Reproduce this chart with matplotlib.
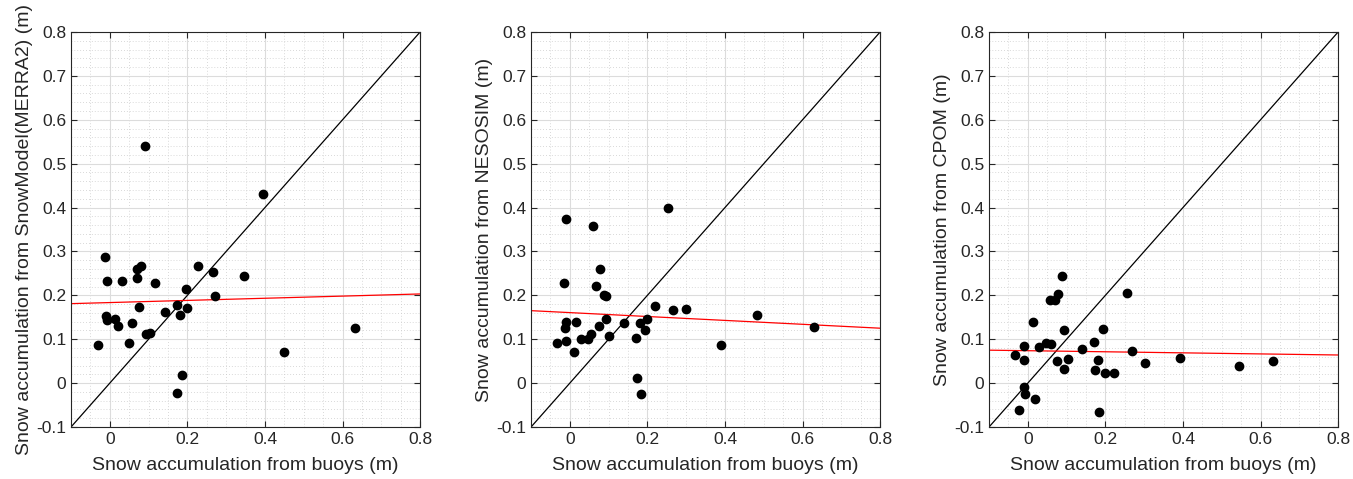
import numpy as np
import matplotlib
matplotlib.use("Agg")
import matplotlib.pyplot as plt
from matplotlib.ticker import MultipleLocator

plt.rcParams['font.family'] = ['Liberation Sans', 'DejaVu Sans']

# buoy-derived snow accumulation vs. model estimates (m)
buoy_merra = [0.090, 0.395, -0.012, 0.081, 0.069, 0.069, -0.008, 0.031, 0.117, 0.228,
              0.267, 0.346, 0.196, 0.270, 0.075, 0.173, 0.200, 0.182, 0.141, -0.010,
              -0.008, 0.014, 0.020, 0.056, 0.093, 0.103, 0.049, -0.031, 0.450, 0.632,
              0.185, 0.173]
model_merra = [0.540, 0.430, 0.287, 0.266, 0.260, 0.240, 0.233, 0.233, 0.229, 0.266,
               0.253, 0.244, 0.215, 0.199, 0.174, 0.178, 0.172, 0.156, 0.163, 0.152,
               0.144, 0.145, 0.130, 0.136, 0.112, 0.114, 0.091, 0.086, 0.071, 0.125,
               0.018, -0.022]

buoy_nesosim = [-0.009, 0.059, 0.254, 0.078, -0.016, 0.068, 0.088, 0.092, 0.220, 0.267,
                0.299, 0.482, 0.630, -0.009, 0.017, -0.012, 0.093, 0.140, 0.180, 0.199,
                0.195, 0.074, 0.055, 0.047, 0.028, 0.102, 0.171, -0.033, -0.011, 0.012,
                0.391, 0.172, 0.183]
model_nesosim = [0.375, 0.357, 0.400, 0.259, 0.229, 0.221, 0.200, 0.198, 0.175, 0.167,
                 0.168, 0.155, 0.128, 0.140, 0.139, 0.125, 0.146, 0.137, 0.137, 0.146,
                 0.122, 0.130, 0.111, 0.101, 0.101, 0.108, 0.103, 0.091, 0.096, 0.070,
                 0.087, 0.011, -0.025]

buoy_cpom = [0.089, 0.255, 0.079, 0.056, 0.070, 0.014, 0.094, 0.195, 0.171, 0.046,
             0.061, -0.010, 0.030, 0.140, 0.268, -0.032, -0.011, 0.075, 0.103, 0.182,
             0.301, 0.392, 0.545, 0.631, 0.092, 0.173, 0.200, 0.221, -0.009, -0.008,
             0.019, -0.023, 0.184]
model_cpom = [0.245, 0.205, 0.203, 0.190, 0.190, 0.140, 0.120, 0.123, 0.094, 0.092,
              0.089, 0.084, 0.083, 0.077, 0.074, 0.063, 0.052, 0.051, 0.056, 0.053,
              0.046, 0.057, 0.040, 0.051, 0.033, 0.030, 0.022, 0.022, -0.010, -0.025,
              -0.037, -0.062, -0.066]

# linear fit (slope, intercept) for each model
fit_merra = (0.0245, 0.1835)
fit_nesosim = (-0.0444, 0.1606)
fit_cpom = (-0.0122, 0.0738)

ylabels = ['Snow accumulation from SnowModel(MERRA2) (m)',
           'Snow accumulation from NESOSIM (m)',
           'Snow accumulation from CPOM (m)']

panels = [(buoy_merra, model_merra, fit_merra),
          (buoy_nesosim, model_nesosim, fit_nesosim),
          (buoy_cpom, model_cpom, fit_cpom)]

lefts = [0.0525, 0.3925, 0.731]
fig = plt.figure(figsize=(13.53, 4.79), dpi=100)

lim = (-0.1, 0.8)
dark = '#262626'
for left, (bx, my, fit), ylab in zip(lefts, panels, ylabels):
    ax = fig.add_axes([left, 0.1086, 0.258, 0.8246])
    ax.set_xlim(lim)
    ax.set_ylim(lim)
    ax.xaxis.set_major_locator(MultipleLocator(0.2))
    ax.xaxis.set_minor_locator(MultipleLocator(0.05))
    ax.yaxis.set_major_locator(MultipleLocator(0.1))
    ax.yaxis.set_minor_locator(MultipleLocator(0.02))
    ax.grid(which='major', color='#dcdcdc', linewidth=0.8, linestyle='-')
    ax.grid(which='minor', color='#cccccc', linewidth=0.6, linestyle=(0, (1, 2.5)))
    ax.set_axisbelow(True)

    xs = np.array(lim)
    ax.plot(xs, xs, color='black', linewidth=0.9)
    ax.plot(xs, fit[0] * xs + fit[1], color='red', linewidth=0.9)
    ax.plot(bx, my, 'o', color='black', markersize=6)

    ax.xaxis.set_major_formatter(plt.FuncFormatter(lambda v, p: f'{v:g}'))
    ax.yaxis.set_major_formatter(plt.FuncFormatter(lambda v, p: f'{v:g}'))
    ax.tick_params(which='major', direction='in', length=4, width=0.8,
                   top=True, right=True, labelsize=12.5, colors=dark)
    ax.tick_params(which='minor', length=0)
    for s in ax.spines.values():
        s.set_color(dark)
        s.set_linewidth(0.8)
    ax.set_xlabel('Snow accumulation from buoys (m)', fontsize=14, color=dark, labelpad=7)
    ax.set_ylabel(ylab, fontsize=14, color=dark, labelpad=2)

fig.savefig('out.png', dpi=100)
